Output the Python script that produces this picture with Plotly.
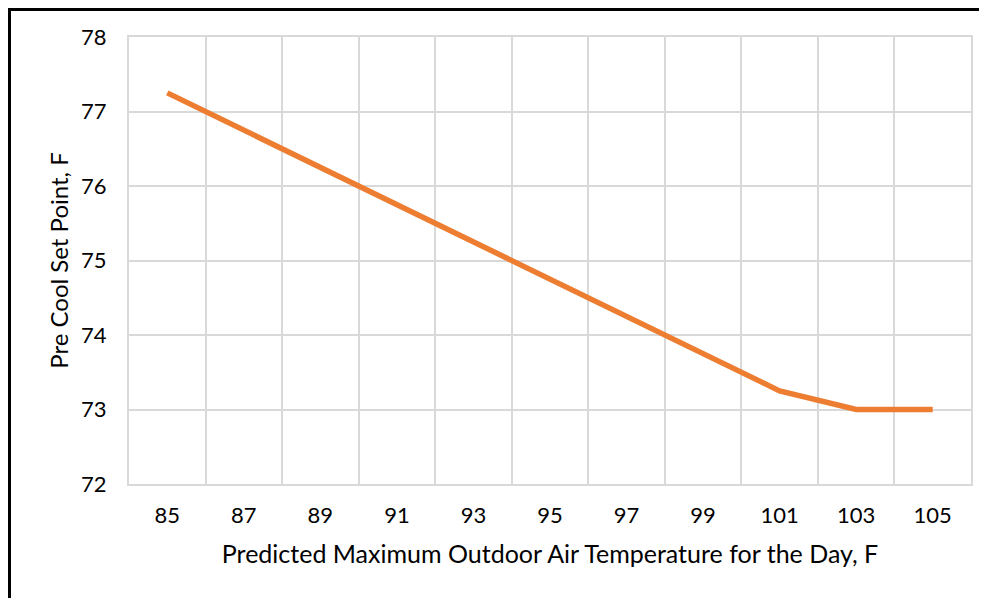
import plotly.graph_objects as go

outdoor_temp = [85, 87, 89, 91, 93, 95, 97, 99, 101, 103, 105]
precool_setpoint = [77.25, 76.75, 76.25, 75.75, 75.25, 74.75, 74.25, 73.75, 73.25, 73.0, 73.0]
x_tick_labels = [str(v) for v in outdoor_temp]
x_grid = [84, 86, 88, 90, 92, 94, 96, 98, 100, 102, 104, 106]

FONT = "Lato"
GRID = "#d9d9d9"

fig = go.Figure()
fig.add_trace(go.Scatter(
    x=outdoor_temp, y=precool_setpoint, mode="lines",
    line=dict(color="#ED7D31", width=5.5),
    hoverinfo="skip", showlegend=False,
))

L, T, PW, PH = 121, 29, 842, 447

fig.update_layout(
    width=987, height=598,
    margin=dict(l=L, r=987 - L - PW, t=T, b=598 - T - PH),
    paper_bgcolor="white", plot_bgcolor="white",
    font=dict(family=FONT, color="black", size=23),
    xaxis=dict(
        range=[84, 106], tickvals=outdoor_temp, ticktext=x_tick_labels,
        showgrid=False, zeroline=False,
        showline=True, linecolor=GRID, linewidth=2, mirror=True,
        ticks="", ticklabelstandoff=11,
        minor=dict(tickvals=x_grid, showgrid=True, gridcolor=GRID, gridwidth=2, ticks=""),
        title=dict(text="Predicted Maximum Outdoor Air Temperature for the Day, F",
                   font=dict(size=25), standoff=18),
        tickfont=dict(size=22),
    ),
    yaxis=dict(
        range=[72, 78], dtick=1, tick0=72,
        showgrid=True, gridcolor=GRID, gridwidth=2, zeroline=False,
        showline=True, linecolor=GRID, linewidth=2, mirror=True,
        ticks="", ticklabelstandoff=16,
        title=dict(text="Pre Cool Set Point, F", font=dict(size=24), standoff=6),
        tickfont=dict(size=22),
    ),
)

fig.add_shape(type="rect", xref="paper", yref="paper",
              x0=(1.5 - L) / PW, x1=(1020 - L) / PW,
              y0=(T + PH - 640) / PH, y1=(T + PH - 1.5) / PH,
              line=dict(color="black", width=3), fillcolor="rgba(0,0,0,0)", layer="above")

fig.write_html("out.html")
